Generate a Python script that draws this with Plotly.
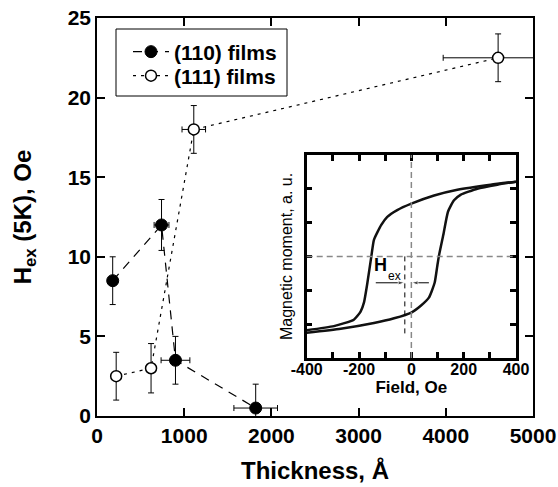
import plotly.graph_objects as go

# ---- main data: exchange bias vs thickness ----
thick_110 = [180, 740, 900, 1820]
thick_110_err = [0, 85, 165, 250]
hex_110 = [8.5, 12.0, 3.5, 0.5]
hex_110_err = [1.5, 1.6, 1.5, 1.5]

thick_111 = [220, 620, 1110, 4600]
thick_111_err = [0, 0, 135, 630]
hex_111 = [2.5, 3.0, 18.0, 22.5]
hex_111_err = [1.5, 1.55, 1.5, 1.5]

# ---- inset data: hysteresis loop ----
desc_field = [400, 303, 176, 87, 0, -54, -92, -115, -143, -153, -168, -181, -194, -220, -296, -400]
desc_moment = [2.21, 2.12, 1.97, 1.80, 1.56, 1.37, 1.17, 0.93, 0.49, 0.0, -0.78, -1.36, -1.63, -1.87, -2.06, -2.18]
asc_field = [-400, -270, -143, -66, 0, 36, 67, 89, 99, 105, 122, 140, 163, 188, 252, 329, 400]
asc_moment = [-2.26, -2.14, -1.97, -1.83, -1.66, -1.46, -1.22, -0.78, -0.29, 0.0, 0.63, 1.32, 1.66, 1.82, 2.0, 2.12, 2.21]

inset_tickvals = [-400, -200, 0, 200, 400]
inset_ticktext = ["-400", "-200", "0", "200", "400"]

hex_field = -25          # shifted loop centre
hex_arrow_y = -0.78
hex_arrow_left = [-136, hex_field]
hex_arrow_right = [67, 0]
hex_line_bottom = -2.3

FONT = "Liberation Sans, Arial, sans-serif"

fig = go.Figure()

fig.add_trace(go.Scatter(
    x=thick_110, y=hex_110, name="(110) films", mode="lines+markers",
    line=dict(color="black", width=1.2, dash="9px,7px"),
    marker=dict(symbol="circle", size=12, color="black", line=dict(color="black", width=1)),
    error_y=dict(type="data", array=hex_110_err, color="black", thickness=1, width=3),
    error_x=dict(type="data", array=thick_110_err, color="black", thickness=1, width=3),
    xaxis="x", yaxis="y", legend="legend",
))
fig.add_trace(go.Scatter(
    x=thick_111, y=hex_111, name="(111) films", mode="lines+markers",
    line=dict(color="black", width=1.2, dash="3px,5px"),
    marker=dict(symbol="circle", size=11, color="white", line=dict(color="black", width=1.5)),
    error_y=dict(type="data", array=hex_111_err, color="black", thickness=1, width=3),
    error_x=dict(type="data", array=thick_111_err, color="black", thickness=1, width=3),
    xaxis="x", yaxis="y", legend="legend2",
))

# inset loop
for fx, my in ((desc_field, desc_moment), (asc_field, asc_moment)):
    fig.add_trace(go.Scatter(
        x=fx, y=my, mode="lines", showlegend=False,
        line=dict(color="#111", width=2.5, shape="spline", smoothing=0.5),
        xaxis="x2", yaxis="y2", hoverinfo="skip",
    ))

# H_ex arrows (as small line traces with arrow heads)
for ax_x in (hex_arrow_left, hex_arrow_right):
    fig.add_trace(go.Scatter(
        x=ax_x, y=[hex_arrow_y, hex_arrow_y], mode="lines+markers", showlegend=False,
        line=dict(color="black", width=1),
        marker=dict(symbol="arrow", angleref="previous", size=[0, 7], color="black"),
        xaxis="x2", yaxis="y2", hoverinfo="skip",
    ))

axis_common = dict(showline=True, linecolor="black", mirror="ticks", ticks="inside",
                   showgrid=False, zeroline=False, automargin=False)

legend_common = dict(xanchor="left", yanchor="middle", borderwidth=0,
                     bgcolor="rgba(0,0,0,0)",
                     font=dict(size=21, weight="bold", family=FONT),
                     itemwidth=36)

fig.update_layout(
    width=558, height=487,
    margin=dict(l=97, r=25, t=18, b=71),
    paper_bgcolor="white", plot_bgcolor="white",
    font=dict(family=FONT, color="black"),
    xaxis=dict(**axis_common, range=[0, 5000], dtick=1000, linewidth=1.5,
               ticklen=8, tickwidth=1.5, tickcolor="black",
               tickfont=dict(size=21, weight="bold", family=FONT),
               title=dict(text="Thickness, Å", font=dict(size=24, weight="bold", family=FONT), standoff=16)),
    yaxis=dict(**axis_common, range=[0, 25], dtick=5, linewidth=1.5,
               ticklen=8, tickwidth=1.5, tickcolor="black",
               tickfont=dict(size=21, weight="bold", family=FONT),
               title=dict(text="H<sub>ex</sub> (5K), Oe", font=dict(size=24, weight="bold", family=FONT), standoff=29)),
    xaxis2=dict(**axis_common, domain=[0.481, 0.961], anchor="y2", range=[-400, 400],
                tickvals=inset_tickvals, ticktext=inset_ticktext,
                linewidth=2.5, ticklen=6, tickwidth=2.5, tickcolor="black",
                minor=dict(dtick=100, ticks="inside", ticklen=6, tickwidth=2.5, tickcolor="black"),
                ticklabelstandoff=-5,
                tickfont=dict(size=16, weight="bold", family=FONT),
                title=dict(text="Field, Oe", font=dict(size=17, weight="bold", family=FONT), standoff=2)),
    yaxis2=dict(**axis_common, domain=[0.146, 0.656], anchor="x2", range=[-3, 3],
                dtick=1, linewidth=2.5, ticklen=6, tickwidth=2.5, tickcolor="black",
                showticklabels=False,
                title=dict(text="Magnetic moment, a. u.", font=dict(size=16, family=FONT), standoff=8)),
    legend=dict(**legend_common, x=(128 - 97) / 436, y=(416 - 52) / 398),
    legend2=dict(**legend_common, x=(128 - 97) / 436, y=(416 - 76) / 398),
    showlegend=True,
)

# legend frame
fig.add_shape(type="rect", xref="paper", yref="paper",
              x0=(116 - 97) / 436, x1=(287 - 97) / 436,
              y0=(416 - 96) / 398, y1=(416 - 29) / 398,
              line=dict(color="black", width=1), fillcolor="white", layer="below")

# inset reference lines
fig.add_shape(type="line", xref="x2", yref="y2", x0=0, x1=0, y0=-3, y1=3,
              line=dict(color="#888", width=1.5, dash="6px,4px"))
fig.add_shape(type="line", xref="x2", yref="y2", x0=-400, x1=400, y0=0, y1=0,
              line=dict(color="#888", width=1.5, dash="6px,4px"))
fig.add_shape(type="line", xref="x2", yref="y2", x0=hex_field, x1=hex_field, y0=0, y1=hex_line_bottom,
              line=dict(color="black", width=1, dash="5px,4px"))

fig.add_annotation(x=-117, y=-0.24, xref="x2", yref="y2", text="H", showarrow=False,
                   font=dict(size=18, weight="bold", family=FONT))
fig.add_annotation(x=-66, y=-0.58, xref="x2", yref="y2", text="ex", showarrow=False,
                   font=dict(size=12, family=FONT))

fig.write_html("out.html")
